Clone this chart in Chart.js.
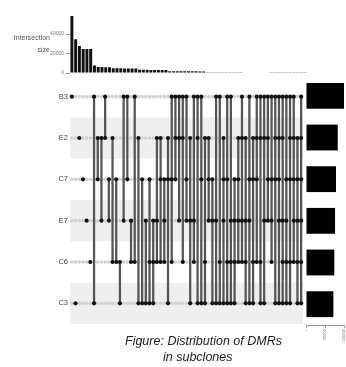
<!DOCTYPE html>
<html><head><meta charset="utf-8">
<script src="https://cdn.jsdelivr.net/npm/chart.js@4"></script>
<style>
html,body{margin:0;padding:0;background:#fff;width:346px;height:367px;overflow:hidden;position:relative;font-family:"Liberation Sans",Arial,sans-serif}
.box{position:absolute}
.t{position:absolute;white-space:nowrap}
</style></head><body>
<div class="box" style="left:0;top:14px;width:307px;height:62px"><canvas id="cTop"></canvas></div>
<div class="box" style="left:0;top:72px;width:307px;height:256px"><canvas id="cMat"></canvas></div>
<div class="box" style="left:306px;top:75px;width:40px;height:272px"><canvas id="cSet"></canvas></div>
<div class="t" style="right:296px;top:34px;font-size:7px;color:#555;text-align:right">Intersection</div>
<div class="t" style="right:296px;top:46px;font-size:7px;color:#555;text-align:right">size</div>
<div class="t" style="left:125px;top:334px;font-size:12.5px;font-style:italic;color:#222">Figure: Distribution of DMRs</div>
<div class="t" style="left:163px;top:350px;font-size:12.5px;font-style:italic;color:#222">in subclones</div>
<script>
const sets = ["B3","E2","C7","E7","C6","C3"];
const setSizes = [100000, 83500, 79000, 76500, 74500, 72000];
const setTicks = [0, 50000, 100000];
const sizeTicks = [0, 20000, 40000];
const combos = [
 "B3","C3","E2","C7","E7","C6",
 "B3&C3","E2&C7","E2&E7","B3&E2","C7&E7","E2&C6","C7&C6","C3&C6","B3&E7","B3&C7","E7&C6","B3&C6","E2&C3","C7&C3","E7&C3",
 "C7&C6&C3","E7&C6&C3","E2&E7&C6","E2&C7&C6","C7&E7&C6","E2&C7&C3","B3&C7&C6","B3&E2&C7","B3&E2&E7","B3&E2&C6",
 "B3&C7&E7","E2&E7&C3","B3&E7&C6","B3&E2&C3","B3&C7&C3","E2&C6&C3","E2&C7&E7","C7&E7&C3","B3&E7&C3","B3&C6&C3",
 "C3&E2&C7&E7","B3&C3&C7&C6","B3&C3&E7&C6","C3&C7&E7&C6","E2&C7&E7&C6","B3&E2&E7&C6","C3&E2&E7&C6","B3&C3&C7&E7",
 "C3&E2&C7&C6","B3&E2&C7&C6","B3&C3&E2&C6","B3&C3&E2&E7","B3&E2&C7&E7","B3&C7&E7&C6","B3&C3&E2&C7",
 "B3&C3&E2&C7&E7","B3&C3&E2&E7&C6","B3&C3&C7&E7&C6","B3&C3&E2&C7&C6","B3&E2&C7&E7&C6","C3&E2&C7&E7&C6",
 "B3&C3&E2&C7&E7&C6"
];
const counts = [
 58500,34500,27700,24700,24600,24500,
 7600,6200,6100,6000,5900,5000,4900,4800,4700,4600,4500,4500,3400,3300,3300,
 3200,3200,3100,3100,3000,1900,1900,1800,1800,1800,
 1700,1700,1700,1600,1600,800,800,750,750,700,
 700,700,650,650,650,600,600,600,
 550,550,550,500,300,250,250,
 220,200,200,180,170,160,
 150
];

const AXW = 70;
const gray = '#777';
const noPad = s => { s.paddingTop = 0; s.paddingBottom = 0; };

const member = combos.map(c => c.split('&'));
const activePts = [], inactivePts = [], spans = [];
combos.forEach((c, i) => {
  const rows = member[i].map(s => sets.indexOf(s));
  sets.forEach((s, r) => {
    (rows.includes(r) ? activePts : inactivePts).push({x: c, y: r});
  });
  spans.push([Math.min(...rows), Math.max(...rows)]);
});

new Chart(document.getElementById('cTop'), {
  type: 'bar',
  data: { labels: combos, datasets: [{ data: counts, backgroundColor: '#111', barPercentage: 0.78, categoryPercentage: 1 }] },
  options: {
    responsive: true, maintainAspectRatio: false, animation: false,
    layout: { padding: { top: 0.5, bottom: 3, left: 0, right: 0 } },
    plugins: { legend: { display: false }, tooltip: { enabled: false } },
    scales: {
      x: { display: false },
      y: {
        min: 0, max: 60000,
        afterFit: s => { s.width = AXW; noPad(s); },
        afterBuildTicks: s => { s.ticks = sizeTicks.map(v => ({ value: v })); },
        ticks: { callback: v => String(v), font: { size: 5, family: 'Liberation Sans' }, color: gray, padding: 2 },
        grid: { drawOnChartArea: false, tickLength: 4, color: '#999' },
        border: { display: false }
      }
    }
  }
});

const bandPlugin = {
  id: 'bands',
  beforeDatasetsDraw(chart) {
    const { ctx, chartArea: a, scales: { y } } = chart;
    ctx.save();
    ctx.fillStyle = '#efefef';
    sets.forEach((s, r) => {
      if (r % 2 === 1) {
        const y0 = y.getPixelForValue(r - 0.5), y1 = y.getPixelForValue(r + 0.5);
        ctx.fillRect(a.left, Math.min(y0, y1), a.right - a.left, Math.abs(y1 - y0));
      }
    });
    ctx.restore();
  }
};

new Chart(document.getElementById('cMat'), {
  type: 'bar',
  data: {
    labels: combos,
    datasets: [
      { type: 'scatter', data: activePts, pointRadius: 2.1, pointBackgroundColor: '#111', pointBorderWidth: 0, order: 0 },
      { type: 'bar', data: spans, backgroundColor: '#555', barThickness: 1.6, order: 1 },
      { type: 'scatter', data: inactivePts, pointRadius: 1.8, pointBackgroundColor: '#d2d2d2', pointBorderWidth: 0, order: 2 }
    ]
  },
  options: {
    responsive: true, maintainAspectRatio: false, animation: false,
    layout: { padding: 0 },
    plugins: { legend: { display: false }, tooltip: { enabled: false } },
    scales: {
      x: { type: 'category', offset: true, display: false },
      y: {
        type: 'linear', min: -0.5, max: 5.5, reverse: true,
        afterFit: s => { s.width = AXW; noPad(s); },
        afterBuildTicks: s => { s.ticks = sets.map((n, i) => ({ value: i })); },
        ticks: { callback: v => sets[v], font: { size: 7.5, family: 'Liberation Sans' }, color: '#444', padding: 2 },
        grid: { display: false, drawTicks: false, tickLength: 0 },
        border: { display: false }
      }
    }
  },
  plugins: [bandPlugin]
});

new Chart(document.getElementById('cSet'), {
  type: 'bar',
  data: { labels: sets, datasets: [{ data: setSizes, backgroundColor: '#000', categoryPercentage: 1, barPercentage: 0.62 }] },
  options: {
    indexAxis: 'y',
    responsive: true, maintainAspectRatio: false, animation: false,
    layout: { padding: { right: 0 } },
    plugins: { legend: { display: false }, tooltip: { enabled: false } },
    scales: {
      y: { display: false },
      x: {
        min: 0, max: 100000,
        afterFit: s => { s.height = 22; s.paddingLeft = 0; s.paddingRight = 2; },
        afterBuildTicks: s => { s.ticks = setTicks.map(v => ({ value: v })); },
        ticks: { callback: v => String(v), font: { size: 4, family: 'Liberation Sans' }, color: gray, minRotation: 90, maxRotation: 90, padding: 1 },
        grid: { drawOnChartArea: false, tickLength: 3, color: '#999' },
        border: { display: true, color: '#999' }
      }
    }
  }
});
</script>
</body></html>
